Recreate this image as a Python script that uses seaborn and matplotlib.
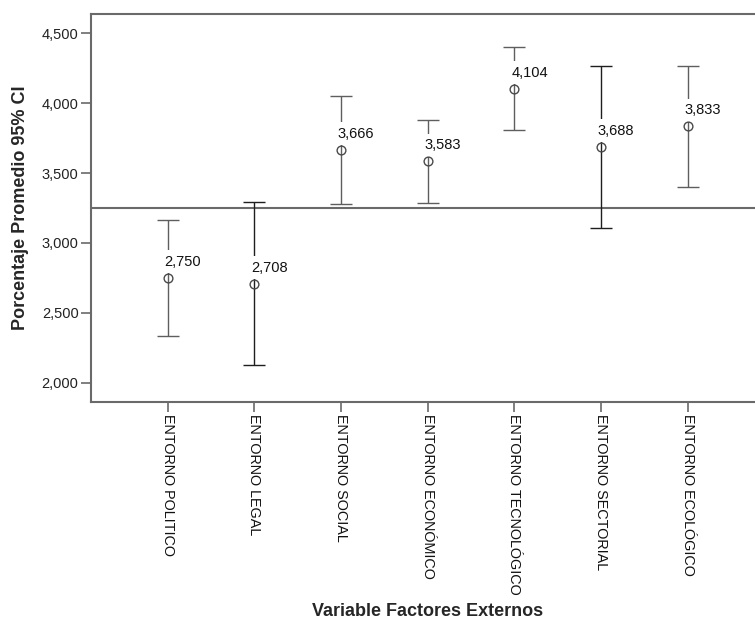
import numpy as np
import pandas as pd
import matplotlib
matplotlib.use("Agg")
import matplotlib.pyplot as plt
import seaborn as sns

# Category names, means and 95% CI bounds
categorias = ["ENTORNO POLITICO", "ENTORNO LEGAL", "ENTORNO SOCIAL",
              "ENTORNO ECONÓMICO", "ENTORNO TECNOLÓGICO", "ENTORNO SECTORIAL",
              "ENTORNO ECOLÓGICO"]
medias = [2.750, 2.708, 3.666, 3.583, 4.104, 3.688, 3.833]
ic_inferior = [2.333, 2.125, 3.282, 3.285, 3.807, 3.108, 3.398]
ic_superior = [3.167, 3.291, 4.050, 3.882, 4.402, 4.267, 4.267]
valor_referencia = 3.25
yticks = [2.0, 2.5, 3.0, 3.5, 4.0, 4.5]

sns.set_style("white")
plt.rcParams["font.family"] = ["Liberation Sans", "DejaVu Sans"]

df = pd.DataFrame({"categoria": categorias, "media": medias,
                   "inf": ic_inferior, "sup": ic_superior})

fig = plt.figure(figsize=(7.55, 6.21), dpi=100)
ax = fig.add_axes([0.1201, 0.3527, 0.893, 0.6248])

frame_col = "#6a6a6a"
bar_cols = ["#5e5e5e", "#1e1e1e", "#5e5e5e", "#5e5e5e", "#5e5e5e", "#1e1e1e", "#5e5e5e"]

# Means as open circles
sns.pointplot(data=df, x="categoria", y="media", order=categorias,
              errorbar=None, linestyle="none", marker="o",
              color="#4a4a4a", markersize=6.3, markerfacecolor="none",
              markeredgewidth=1.0, zorder=5, ax=ax)

# 95% CI whiskers with value labels
for i, row in df.iterrows():
    ax.errorbar([i], [row.media],
                yerr=[[row.media - row.inf], [row.sup - row.media]],
                fmt="none", ecolor=bar_cols[i], elinewidth=1.0,
                capsize=7.6, capthick=1.0, zorder=2)
    ax.annotate(f"{row.media:.3f}".replace(".", ","),
                xy=(i, row.media), xytext=(-3, 16), textcoords="offset pixels",
                ha="left", va="center", fontsize=10.5, color="#111111",
                bbox=dict(boxstyle="square,pad=0.3", fc="white", ec="none"),
                zorder=3)

# Reference line
ax.axhline(valor_referencia, color=frame_col, lw=1.5, zorder=1)

ax.set_xlim(-0.888, 6.892)
ax.set_ylim(1.862, 4.638)
ax.set_yticks(yticks)
ax.set_yticklabels([f"{v:.3f}".replace(".", ",") for v in yticks], fontsize=10.5,
                   color="#222222")
ax.set_xticks(range(len(categorias)))
ax.set_xticklabels(categorias, rotation=-90, fontsize=10.4, ha="center",
                   va="top", color="#111111")
ax.tick_params(axis="both", bottom=True, left=True, direction="out",
               length=7.2, width=1.2, color=frame_col, pad=1.5)

for s in ax.spines.values():
    s.set_color(frame_col)
    s.set_linewidth(1.5)

ax.set_ylabel("Porcentaje Promedio 95% CI", fontsize=13, fontweight="bold",
              va="center")
ax.yaxis.set_label_coords(-0.1034, 0.5)
ax.set_xlabel("Variable Factores Externos", fontsize=13, fontweight="bold",
              va="center")
ax.xaxis.set_label_coords(0.5, -0.54)

fig.savefig("out.png", dpi=100, facecolor="white")
